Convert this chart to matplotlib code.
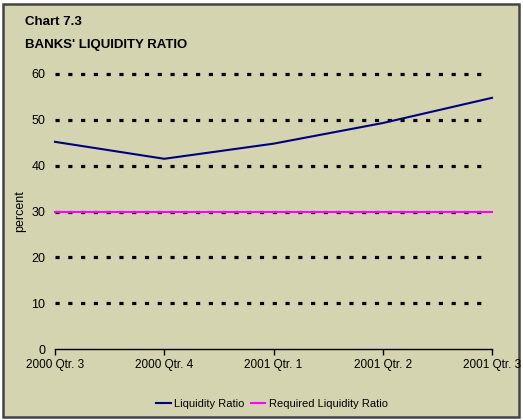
import matplotlib
matplotlib.use("Agg")
import matplotlib.pyplot as plt
from matplotlib.patches import Rectangle

categories = ["2000 Qtr. 3", "2000 Qtr. 4", "2001 Qtr. 1", "2001 Qtr. 2", "2001 Qtr. 3"]
liquidity_ratio = [45.2, 41.5, 44.8, 49.3, 54.8]
required_ratio = [30, 30, 30, 30, 30]
yticks = [0, 10, 20, 30, 40, 50, 60]

plt.rcParams['font.family'] = ['Liberation Sans', 'DejaVu Sans']

W, H = 523, 420
fig = plt.figure(figsize=(W / 100, H / 100), dpi=100, facecolor='white')
bg = '#D5D4B1'
fig.patches.append(Rectangle((3 / W, 3 / H), (W - 7) / W, (H - 7) / H,
                             transform=fig.transFigure, facecolor=bg,
                             edgecolor='#444444', linewidth=1.8, zorder=-10))

ax = fig.add_axes([55 / W, (H - 349) / H, (492 - 55) / W, (349 - 74) / H])
ax.set_zorder(5)
ax.set_facecolor('none')
x = list(range(len(categories)))

for yv in yticks[1:]:
    ax.axhline(yv, xmin=0, xmax=0.992, color='black', linewidth=2.3,
               linestyle=(0, (1.3, 2.7)), dash_capstyle='butt', clip_on=False, zorder=1)

ax.plot(x, liquidity_ratio, color='#000080', linewidth=1.5, label='Liquidity Ratio',
        zorder=3, clip_on=False, solid_joinstyle='round')
ax.plot(x, required_ratio, color='#FF00FF', linewidth=1.5, label='Required Liquidity Ratio',
        zorder=3, clip_on=False)

ax.set_xlim(0, 4)
ax.set_ylim(0, 60)
ax.set_yticks(yticks)
ax.set_yticklabels([str(v) for v in yticks], fontsize=9)
ax.set_xticks(x)
ax.set_xticklabels(categories, fontsize=8.5)
ax.tick_params(axis='y', length=0, pad=7)
ax.tick_params(axis='x', direction='out', length=4, width=1, pad=3)
for s in ['top', 'right', 'left']:
    ax.spines[s].set_visible(False)
ax.spines['bottom'].set_linewidth(1)
ax.set_ylabel('percent', fontsize=9, labelpad=4)

fig.text(25 / W, 1 - 22 / H, 'Chart 7.3', fontsize=9.5, fontweight='bold', va='center', ha='left')
fig.text(25 / W, 1 - 45 / H, "BANKS' LIQUIDITY RATIO", fontsize=9.5, fontweight='bold',
         va='center', ha='left')

leg = fig.legend(loc='center', bbox_to_anchor=(272 / W, 1 - 404 / H), ncol=2, frameon=False,
                 fontsize=8, handlelength=1.3, handletextpad=0.3, columnspacing=0.6)
leg.set_zorder(6)

fig.savefig('out.png', dpi=100, facecolor='white')
